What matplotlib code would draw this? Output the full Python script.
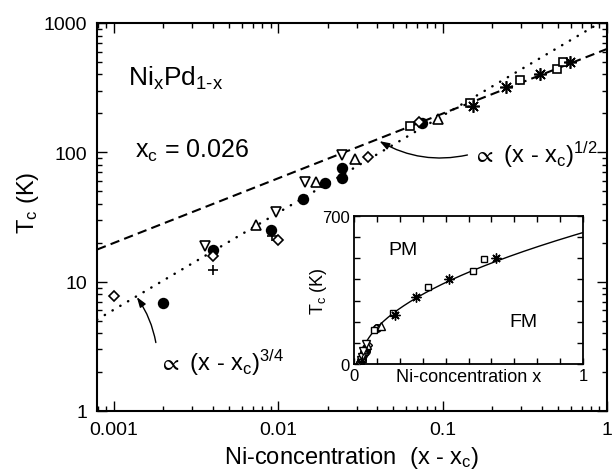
#!/usr/bin/env python3

import numpy as np
import matplotlib
matplotlib.use("Agg")
import matplotlib.pyplot as plt
from matplotlib.ticker import FixedLocator, FixedFormatter, LogLocator, NullFormatter

plt.rcParams["font.family"] = ["Liberation Sans", "DejaVu Sans"]
plt.rcParams["mathtext.default"] = "regular"

XC = 0.026

# (x - xc), Tc (K) per symbol
circle_x = [0.002, 0.004, 0.009, 0.0142, 0.0193, 0.0243, 0.0243, 0.0748]
circle_t = [6.8, 17.7, 25.2, 43.6, 58.0, 63.4, 75.7, 168.0]
diamond_x = [0.001, 0.004, 0.010, 0.035, 0.072]
diamond_t = [7.8, 15.9, 21.1, 91.6, 172.0]
up_x = [0.0073, 0.017, 0.0295, 0.0936]
up_t = [27.5, 59.4, 88.9, 181.0]
down_x = [0.0036, 0.0097, 0.0146, 0.0243]
down_t = [19.0, 34.4, 59.4, 95.5]
plus_x = [0.004, 0.0092]
plus_t = [12.2, 22.7]
square_x = [0.063, 0.146, 0.295, 0.493, 0.542]
square_t = [159.0, 241.0, 365.0, 442.0, 497.0]
star_x = [0.153, 0.244, 0.390, 0.594]
star_t = [230.0, 319.0, 404.0, 500.0]

# power-law guides: Tc = A * (x - xc)^p
amp_half, exp_half = 630.0, 0.5
amp_34, exp_34 = 1080.0, 0.75

main_xticks = [0.001, 0.01, 0.1, 1]
main_xlabels = ["0.001", "0.01", "0.1", "1"]
main_yticks = [1, 10, 100, 1000]
main_ylabels = ["1", "10", "100", "1000"]

series = [
    (circle_x, circle_t, dict(marker="o", mfc="black", mec="black")),
    (diamond_x, diamond_t, dict(marker="D", mfc="white", mec="black", scale=0.75)),
    (up_x, up_t, dict(marker="^", mfc="white", mec="black")),
    (down_x, down_t, dict(marker="v", mfc="white", mec="black")),
    (plus_x, plus_t, dict(marker="+", mfc="none", mec="black")),
    (square_x, square_t, dict(marker="s", mfc="white", mec="black", scale=0.85)),
    (star_x, star_t, dict(marker=(8, 2, 0), mfc="none", mec="black", scale=1.3)),
]


def draw_series(ax, ms, shift=0.0, mew=1.1):
    for xs, ts, st in series:
        st = dict(st)
        sc = st.pop("scale", 1.0)
        ax.plot(np.array(xs) + shift, ts, ls="none", ms=ms * sc, mew=mew, zorder=4, **st)


fig = plt.figure(figsize=(6.16, 4.77), dpi=100)
ax = fig.add_axes([0.1575, 0.1363, 0.8279, 0.8134])
ax.set_xscale("log")
ax.set_yscale("log")
ax.set_xlim(0.00079, 1.0)
ax.set_ylim(1, 1000)

xx = np.logspace(np.log10(0.00079), 0, 200)
ax.plot(xx, amp_half * xx ** exp_half, color="black", lw=1.5, ls=(0, (4.5, 2.5)), zorder=2)
ax.plot(xx, amp_34 * xx ** exp_34, color="black", lw=1.8, ls=(0, (0.1, 3.5)),
        dash_capstyle="round", zorder=2)
draw_series(ax, 7, mew=1.2)

ax.xaxis.set_major_locator(FixedLocator(main_xticks))
ax.xaxis.set_major_formatter(FixedFormatter(main_xlabels))
ax.yaxis.set_major_locator(FixedLocator(main_yticks))
ax.yaxis.set_major_formatter(FixedFormatter(main_ylabels))
for a in (ax.xaxis, ax.yaxis):
    a.set_minor_locator(LogLocator(base=10, subs=np.arange(2, 10)))
    a.set_minor_formatter(NullFormatter())
ax.tick_params(which="both", direction="in", top=True, right=True, labelsize=14, width=1)
ax.tick_params(which="major", length=7, pad=7)
ax.tick_params(which="minor", length=3.5)
for s in ax.spines.values():
    s.set_linewidth(1.5)

ax.set_xlabel("Ni-concentration  (x - x$_c$)", fontsize=17)
ax.set_ylabel("T$_c$ (K)", fontsize=17)
ax.yaxis.set_label_coords(-0.11, 0.54)
ax.xaxis.set_label_coords(0.5, -0.085)

ax.text(0.06, 0.84, "Ni$_x$Pd$_{1\u2010x}$", transform=ax.transAxes, fontsize=19)
ax.text(0.075, 0.655, "x$_c$ = 0.026", transform=ax.transAxes, fontsize=18)

arrow_kw = dict(arrowstyle="-|>,head_length=0.35,head_width=0.12", color="black",
                lw=1.0, shrinkA=1, shrinkB=0, relpos=(0, 0.5))
ax.annotate(r"$\propto$ (x - x$_c$)$^{1/2}$", xy=(0.0413, 122), xytext=(0.15, 97),
            fontsize=17, va="center", ha="left",
            arrowprops=dict(connectionstyle="arc3,rad=-0.2", **arrow_kw))
ax.annotate(r"$\propto$ (x - x$_c$)$^{3/4}$", xy=(0.00138, 7.6), xytext=(0.00185, 2.4),
            fontsize=17, va="center", ha="left",
            arrowprops=dict(connectionstyle="arc3,rad=0.15", **arrow_kw))

# inset: linear scale vs x
ins = fig.add_axes([0.5747, 0.2348, 0.3718, 0.3103])
ins.set_xlim(0, 1)
ins.set_ylim(0, 700)
xl = np.linspace(XC, 1.0, 200)
ins.plot(xl, amp_half * (xl - XC) ** exp_half, color="black", lw=1.0, zorder=2)
draw_series(ins, 5.5, shift=XC, mew=1.0)

ins.set_xticks(np.round(np.arange(0, 1.01, 0.1), 1))
ins.set_xticklabels(["0"] + [""] * 9 + ["1"])
ins.set_yticks(np.arange(0, 701, 100))
ins.set_yticklabels(["0"] + [""] * 6 + ["700"])
ins.tick_params(direction="in", top=True, right=True, labelsize=12, length=4, width=1, pad=3)
for s in ins.spines.values():
    s.set_linewidth(1.3)
ins.set_xlabel("Ni-concentration x", fontsize=13)
ins.xaxis.set_label_coords(0.5, -0.03)
ins.xaxis.label.set_va("top")
ins.set_ylabel("T$_c$ (K)", fontsize=13)
ins.yaxis.set_label_coords(-0.11, 0.5)
ins.text(0.15, 0.74, "PM", transform=ins.transAxes, fontsize=14)
ins.text(0.68, 0.26, "FM", transform=ins.transAxes, fontsize=14)

fig.savefig("out.png", dpi=100)
